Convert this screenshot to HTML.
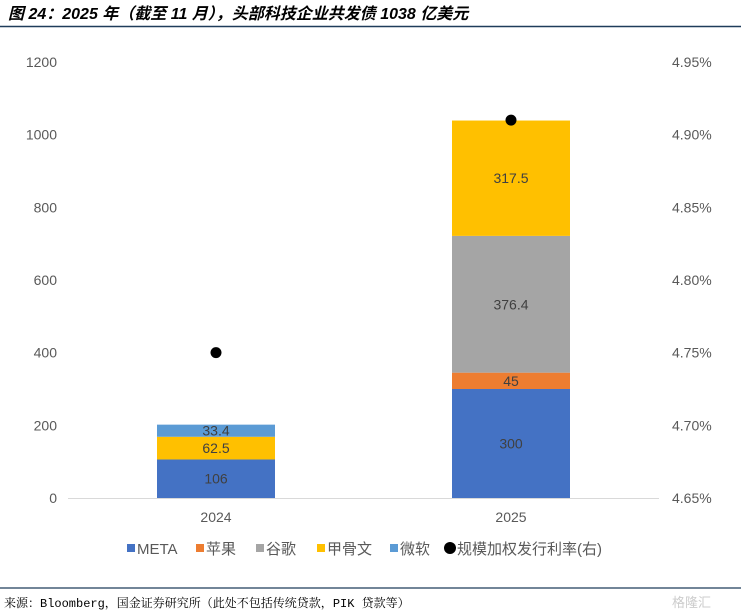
<!DOCTYPE html>
<html><head><meta charset="utf-8">
<style>
body{margin:0;background:#fff;}
svg{display:block;font-family:"Liberation Sans","Noto Sans CJK SC",sans-serif;}
</style></head>
<body>
<svg id="c" width="741" height="615" xmlns="http://www.w3.org/2000/svg">
<text x="8" y="19" font-size="16" font-weight="bold" font-style="italic" fill="#000">图 24：2025 年（截至 11 月），头部科技企业共发债 1038 亿美元</text>
<line x1="0" y1="26.5" x2="741" y2="26.5" stroke="#1f3c5a" stroke-width="1.5"/>
<g id="plot"></g>
<g id="legend"></g>
<line x1="0" y1="588" x2="741" y2="588" stroke="#1f3c5a" stroke-width="1.2"/>
<text x="4" y="607" font-size="12" fill="#000" style="font-family:'Liberation Mono','Noto Serif CJK SC',serif">来源：Bloomberg，国金证券研究所（此处不包括传统贷款，PIK 贷款等）</text>
<text x="672" y="607" font-size="13" fill="#ccc">格隆汇</text>
</svg>
<script>
const categories=["2024","2025"];
const seriesNames=["META","苹果","谷歌","甲骨文","微软"];
const seriesColors=["#4472c4","#ed7d31","#a5a5a5","#ffc000","#5b9bd5"];
const metaVals=[106,300];
const appleVals=[0,45];
const googleVals=[0,376.4];
const oracleVals=[62.5,317.5];
const msftVals=[33.4,0];
const rateVals=[4.75,4.91];
const leftTicks=[0,200,400,600,800,1000,1200];
const rightTicks=[4.65,4.70,4.75,4.80,4.85,4.90,4.95];

const NS="http://www.w3.org/2000/svg";
const plot=document.getElementById('plot');
const leg=document.getElementById('legend');
const y0=498,y1=62,xL=68,xR=659;
const yL=v=>y0-(v/1200)*(y0-y1);
const yR=v=>y0-((v-4.65)/0.30)*(y0-y1);
const xC=i=>216+i*295;
const bw=118;
function mk(tag,attrs,parent,text){const e=document.createElementNS(NS,tag);for(const k in attrs)e.setAttribute(k,attrs[k]);if(text!==undefined)e.textContent=text;parent.appendChild(e);return e;}

leftTicks.forEach(t=>{const e=mk('text',{x:57,y:yL(t)+5,'text-anchor':'end','font-size':14,fill:'#595959'},plot,String(t));

});
rightTicks.forEach(t=>{const e=mk('text',{x:672,y:yR(t)+5,'font-size':14,fill:'#595959'},plot,t.toFixed(2)+'%');

});

const all=[metaVals,appleVals,googleVals,oracleVals,msftVals];
categories.forEach((c,i)=>{
  let acc=0;
  all.forEach((arr,s)=>{
    const v=arr[i]; if(!v) return;
    const top=yL(acc+v),bot=yL(acc);
    const r=mk('rect',{x:xC(i)-bw/2,y:top,width:bw,height:bot-top,fill:seriesColors[s]},plot);
    
    
    const t=mk('text',{x:xC(i),y:(top+bot)/2+5,'text-anchor':'middle','font-size':14,fill:'#404040'},plot,String(v));
    
    
    acc+=v;
  });
  const d=mk('circle',{cx:xC(i),cy:yR(rateVals[i]),r:5.5,fill:'#000'},plot);
  
  
  const l=mk('text',{x:xC(i),y:522,'text-anchor':'middle','font-size':14,fill:'#595959'},plot,c);
  
  
});
const ax=mk('line',{x1:xL,y1:y0+0.5,x2:xR,y2:y0+0.5,stroke:'#d9d9d9','stroke-width':1},plot);



const lx=[127,196,256,317,390];
seriesNames.forEach((n,s)=>{
  const r=mk('rect',{x:lx[s],y:544,width:8,height:8,fill:seriesColors[s]},leg);
  
  
  const t=mk('text',{x:lx[s]+10,y:554,'font-size':15,fill:'#595959'},leg,n);
  
  
});
const lc=mk('circle',{cx:450,cy:548,r:6,fill:'#000'},leg);


const lt=mk('text',{x:457,y:554,'font-size':15,fill:'#595959'},leg,'规模加权发行利率(右)');


</script>
</body></html>
